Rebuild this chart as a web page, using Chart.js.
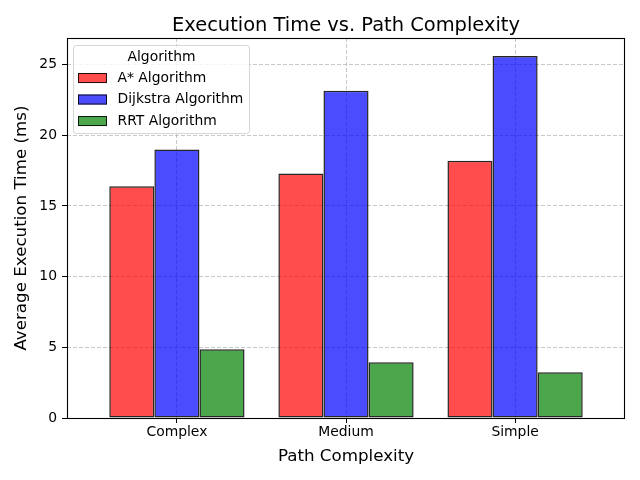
<!DOCTYPE html>
<html>
<head>
<meta charset="utf-8">
<script src="https://cdn.jsdelivr.net/npm/chart.js@4.4.1/dist/chart.umd.min.js"></script>
<style>
  html, body { margin: 0; padding: 0; background: #ffffff; }
  #wrap { width: 640px; height: 480px; }
</style>
</head>
<body>
<div id="wrap"><canvas id="c" width="640" height="480"></canvas></div>
<script>
const categories = ['Complex', 'Medium', 'Simple'];
const seriesNames = ['A* Algorithm', 'Dijkstra Algorithm', 'RRT Algorithm'];
const astarTimes = [16.4, 17.3, 18.2];
const dijkstraTimes = [19.0, 23.15, 25.6];
const rrtTimes = [4.86, 3.94, 3.24];
const yTickValues = [0, 5, 10, 15, 20, 25];

const seriesValues = [astarTimes, dijkstraTimes, rrtTimes];
const fillColors = ['rgba(255,0,0,0.7)', 'rgba(0,0,255,0.7)', 'rgba(0,128,0,0.7)'];
const edgeColor = 'rgba(0,0,0,0.85)';
const FONT = "'DejaVu Sans', sans-serif";
const gridColor = 'rgba(176,176,176,0.7)';

const datasets = seriesNames.map((name, s) => ({
  label: name,
  data: seriesValues[s].map((v, i) => ({ x: i, y: v })),
  backgroundColor: fillColors[s],
  borderColor: edgeColor,
  borderWidth: 1.5,
  borderSkipped: false,
  categoryPercentage: 0.8,
  barPercentage: 1.0
}));

const framePlugin = {
  id: 'frame',
  afterDatasetsDraw(chart) {
    const ctx = chart.ctx;
    const a = chart.chartArea;
    ctx.save();
    ctx.strokeStyle = '#000000';
    ctx.lineWidth = 1.1;
    ctx.strokeRect(Math.round(a.left) + 0.5, Math.round(a.top) + 0.5,
                   Math.round(a.right - a.left) - 1, Math.round(a.bottom - a.top));
    ctx.restore();
  }
};

const legendPlugin = {
  id: 'innerLegend',
  afterDatasetsDraw(chart) {
    const ctx = chart.ctx;
    const a = chart.chartArea;
    const bx = a.left + 6.5, by = a.top + 7.5, bw = 176, bh = 88, r = 3;
    ctx.save();
    ctx.beginPath();
    ctx.moveTo(bx + r, by);
    ctx.lineTo(bx + bw - r, by);
    ctx.arcTo(bx + bw, by, bx + bw, by + r, r);
    ctx.lineTo(bx + bw, by + bh - r);
    ctx.arcTo(bx + bw, by + bh, bx + bw - r, by + bh, r);
    ctx.lineTo(bx + r, by + bh);
    ctx.arcTo(bx, by + bh, bx, by + bh - r, r);
    ctx.lineTo(bx, by + r);
    ctx.arcTo(bx, by, bx + r, by, r);
    ctx.closePath();
    ctx.fillStyle = 'rgba(255,255,255,0.8)';
    ctx.fill();
    ctx.strokeStyle = 'rgba(204,204,204,0.8)';
    ctx.lineWidth = 1;
    ctx.stroke();

    ctx.fillStyle = '#000000';
    ctx.font = '13.9px ' + FONT;
    ctx.textAlign = 'center';
    ctx.textBaseline = 'middle';
    ctx.fillText('Algorithm', bx + bw / 2, a.top + 19.4);

    chart.data.datasets.forEach((ds, i) => {
      const cy = a.top + 40 + i * 21.5;
      ctx.fillStyle = ds.backgroundColor;
      ctx.fillRect(a.left + 11, cy - 5, 29, 10);
      ctx.strokeStyle = ds.borderColor;
      ctx.lineWidth = 1;
      ctx.strokeRect(a.left + 11.5, cy - 4.5, 28, 9);
      ctx.fillStyle = '#000000';
      ctx.textAlign = 'left';
      ctx.textBaseline = 'middle';
      ctx.fillText(ds.label, a.left + 50.5, cy);
    });
    ctx.restore();
  }
};

new Chart(document.getElementById('c'), {
  type: 'bar',
  data: { datasets },
  options: {
    responsive: false,
    animation: false,
    layout: { padding: { left: 0, right: 15, top: 0, bottom: 0 } },
    plugins: {
      legend: { display: false },
      tooltip: { enabled: false },
      title: {
        display: true,
        text: 'Execution Time vs. Path Complexity',
        fullSize: false,
        color: '#000000',
        font: { family: FONT, size: 19.44, weight: 'normal', lineHeight: 1.2 },
        padding: { top: 14, bottom: 0.7 }
      }
    },
    scales: {
      x: {
        type: 'linear',
        min: -0.65,
        max: 2.65,
        offset: false,
        afterBuildTicks(scale) {
          scale.ticks = categories.map((c, i) => ({ value: i }));
        },
        afterFit(scale) { scale.height = 62; },
        ticks: {
          autoSkip: false,
          maxRotation: 0,
          padding: 1,
          color: '#000000',
          font: { family: FONT, size: 13.9 },
          callback: (v) => categories[v]
        },
        grid: {
          display: true,
          offset: false,
          drawOnChartArea: true,
          drawTicks: true,
          color: gridColor,
          lineWidth: 1,
          tickColor: '#000000',
          tickLength: 5,
          tickWidth: 1,
          tickBorderDash: []
        },
        border: { display: false, dash: [4, 2] },
        title: {
          display: true,
          text: 'Path Complexity',
          color: '#000000',
          font: { family: FONT, size: 16.7, lineHeight: 1.2 },
          padding: { top: 0, bottom: 13 }
        }
      },
      y: {
        type: 'linear',
        min: 0,
        max: 26.88,
        afterBuildTicks(scale) {
          scale.ticks = yTickValues.map(v => ({ value: v }));
        },
        afterFit(scale) { scale.width = 67; },
        ticks: {
          padding: 5,
          color: '#000000',
          font: { family: FONT, size: 13.9 }
        },
        grid: {
          display: true,
          color: gridColor,
          lineWidth: 1,
          tickColor: '#000000',
          tickLength: 5,
          tickWidth: 1,
          tickBorderDash: []
        },
        border: { display: false, dash: [4, 2] },
        title: {
          display: true,
          text: 'Average Execution Time (ms)',
          color: '#000000',
          font: { family: FONT, size: 16.7, lineHeight: 1.2 },
          padding: { top: 12, bottom: 0 }
        }
      }
    }
  },
  plugins: [framePlugin, legendPlugin]
});
</script>
</body>
</html>
